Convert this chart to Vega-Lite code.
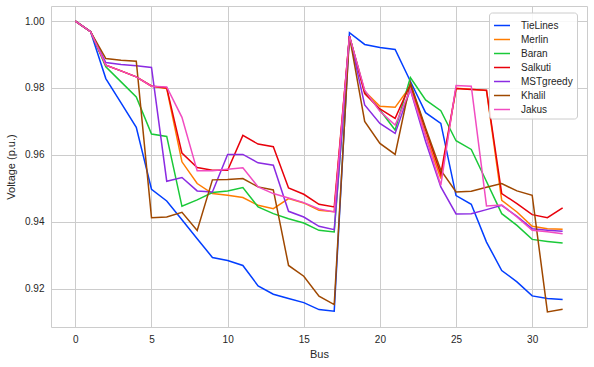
{
  "$schema": "https://vega.github.io/schema/vega-lite/v6.json",
  "autosize": "none",
  "width": 536,
  "height": 321,
  "padding": {"left": 51, "top": 6, "right": 7, "bottom": 40},
  "background": "white",
  "config": {
    "font": "Liberation Sans",
    "view": {"stroke": "#cccccc", "strokeWidth": 1},
    "axis": {"labelFontSize": 10, "titleFontSize": 11, "labelColor": "#262626", "titleColor": "#262626", "titleFontWeight": "normal", "gridColor": "#cccccc", "gridWidth": 1, "domain": false, "ticks": false}
  },
  "data": {"values": [
    {"b":0,"m":"TieLines","v":1.0},{"b":1,"m":"TieLines","v":0.9968},{"b":2,"m":"TieLines","v":0.9828},{"b":3,"m":"TieLines","v":0.9755},{"b":4,"m":"TieLines","v":0.9682},{"b":5,"m":"TieLines","v":0.9497},{"b":6,"m":"TieLines","v":0.9462},{"b":7,"m":"TieLines","v":0.9406},{"b":8,"m":"TieLines","v":0.9349},{"b":9,"m":"TieLines","v":0.9293},{"b":10,"m":"TieLines","v":0.9284},{"b":11,"m":"TieLines","v":0.9269},{"b":12,"m":"TieLines","v":0.9208},{"b":13,"m":"TieLines","v":0.9183},{"b":14,"m":"TieLines","v":0.917},{"b":15,"m":"TieLines","v":0.9158},{"b":16,"m":"TieLines","v":0.9137},{"b":17,"m":"TieLines","v":0.9132},{"b":18,"m":"TieLines","v":0.9965},{"b":19,"m":"TieLines","v":0.993},{"b":20,"m":"TieLines","v":0.9921},{"b":21,"m":"TieLines","v":0.9915},{"b":22,"m":"TieLines","v":0.982},{"b":23,"m":"TieLines","v":0.9726},{"b":24,"m":"TieLines","v":0.9694},{"b":25,"m":"TieLines","v":0.9478},{"b":26,"m":"TieLines","v":0.9452},{"b":27,"m":"TieLines","v":0.9339},{"b":28,"m":"TieLines","v":0.9254},{"b":29,"m":"TieLines","v":0.922},{"b":30,"m":"TieLines","v":0.9178},{"b":31,"m":"TieLines","v":0.917},{"b":32,"m":"TieLines","v":0.9167},
    {"b":0,"m":"Merlin","v":1.0},{"b":1,"m":"Merlin","v":0.9968},{"b":2,"m":"Merlin","v":0.9868},{"b":3,"m":"Merlin","v":0.9851},{"b":4,"m":"Merlin","v":0.9833},{"b":5,"m":"Merlin","v":0.9805},{"b":6,"m":"Merlin","v":0.9798},{"b":7,"m":"Merlin","v":0.9579},{"b":8,"m":"Merlin","v":0.9514},{"b":9,"m":"Merlin","v":0.9484},{"b":10,"m":"Merlin","v":0.9479},{"b":11,"m":"Merlin","v":0.9472},{"b":12,"m":"Merlin","v":0.9449},{"b":13,"m":"Merlin","v":0.9439},{"b":14,"m":"Merlin","v":0.9469},{"b":15,"m":"Merlin","v":0.9456},{"b":16,"m":"Merlin","v":0.9434},{"b":17,"m":"Merlin","v":0.943},{"b":18,"m":"Merlin","v":0.9955},{"b":19,"m":"Merlin","v":0.979},{"b":20,"m":"Merlin","v":0.9745},{"b":21,"m":"Merlin","v":0.9742},{"b":22,"m":"Merlin","v":0.9805},{"b":23,"m":"Merlin","v":0.966},{"b":24,"m":"Merlin","v":0.9529},{"b":25,"m":"Merlin","v":0.9799},{"b":26,"m":"Merlin","v":0.9796},{"b":27,"m":"Merlin","v":0.9792},{"b":28,"m":"Merlin","v":0.9464},{"b":29,"m":"Merlin","v":0.9429},{"b":30,"m":"Merlin","v":0.9386},{"b":31,"m":"Merlin","v":0.9379},{"b":32,"m":"Merlin","v":0.9377},
    {"b":0,"m":"Baran","v":1.0},{"b":1,"m":"Baran","v":0.9968},{"b":2,"m":"Baran","v":0.9863},{"b":3,"m":"Baran","v":0.9818},{"b":4,"m":"Baran","v":0.9773},{"b":5,"m":"Baran","v":0.9662},{"b":6,"m":"Baran","v":0.9655},{"b":7,"m":"Baran","v":0.9446},{"b":8,"m":"Baran","v":0.9465},{"b":9,"m":"Baran","v":0.9487},{"b":10,"m":"Baran","v":0.9492},{"b":11,"m":"Baran","v":0.9502},{"b":12,"m":"Baran","v":0.9444},{"b":13,"m":"Baran","v":0.9424},{"b":14,"m":"Baran","v":0.9409},{"b":15,"m":"Baran","v":0.9396},{"b":16,"m":"Baran","v":0.9374},{"b":17,"m":"Baran","v":0.9369},{"b":18,"m":"Baran","v":0.9955},{"b":19,"m":"Baran","v":0.9788},{"b":20,"m":"Baran","v":0.9734},{"b":21,"m":"Baran","v":0.9674},{"b":22,"m":"Baran","v":0.9831},{"b":23,"m":"Baran","v":0.9764},{"b":24,"m":"Baran","v":0.9732},{"b":25,"m":"Baran","v":0.9642},{"b":26,"m":"Baran","v":0.9616},{"b":27,"m":"Baran","v":0.952},{"b":28,"m":"Baran","v":0.9424},{"b":29,"m":"Baran","v":0.9389},{"b":30,"m":"Baran","v":0.9347},{"b":31,"m":"Baran","v":0.9341},{"b":32,"m":"Baran","v":0.9336},
    {"b":0,"m":"Salkuti","v":1.0},{"b":1,"m":"Salkuti","v":0.9968},{"b":2,"m":"Salkuti","v":0.9868},{"b":3,"m":"Salkuti","v":0.9851},{"b":4,"m":"Salkuti","v":0.9833},{"b":5,"m":"Salkuti","v":0.9806},{"b":6,"m":"Salkuti","v":0.98},{"b":7,"m":"Salkuti","v":0.9605},{"b":8,"m":"Salkuti","v":0.9562},{"b":9,"m":"Salkuti","v":0.9554},{"b":10,"m":"Salkuti","v":0.9554},{"b":11,"m":"Salkuti","v":0.9658},{"b":12,"m":"Salkuti","v":0.9632},{"b":13,"m":"Salkuti","v":0.9624},{"b":14,"m":"Salkuti","v":0.9501},{"b":15,"m":"Salkuti","v":0.9482},{"b":16,"m":"Salkuti","v":0.9452},{"b":17,"m":"Salkuti","v":0.9444},{"b":18,"m":"Salkuti","v":0.9955},{"b":19,"m":"Salkuti","v":0.9783},{"b":20,"m":"Salkuti","v":0.9737},{"b":21,"m":"Salkuti","v":0.9709},{"b":22,"m":"Salkuti","v":0.9811},{"b":23,"m":"Salkuti","v":0.9675},{"b":24,"m":"Salkuti","v":0.9542},{"b":25,"m":"Salkuti","v":0.9798},{"b":26,"m":"Salkuti","v":0.9795},{"b":27,"m":"Salkuti","v":0.9793},{"b":28,"m":"Salkuti","v":0.9484},{"b":29,"m":"Salkuti","v":0.9454},{"b":30,"m":"Salkuti","v":0.9421},{"b":31,"m":"Salkuti","v":0.9412},{"b":32,"m":"Salkuti","v":0.9441},
    {"b":0,"m":"MSTgreedy","v":1.0},{"b":1,"m":"MSTgreedy","v":0.9968},{"b":2,"m":"MSTgreedy","v":0.9876},{"b":3,"m":"MSTgreedy","v":0.987},{"b":4,"m":"MSTgreedy","v":0.9866},{"b":5,"m":"MSTgreedy","v":0.9861},{"b":6,"m":"MSTgreedy","v":0.9521},{"b":7,"m":"MSTgreedy","v":0.9532},{"b":8,"m":"MSTgreedy","v":0.9492},{"b":9,"m":"MSTgreedy","v":0.9489},{"b":10,"m":"MSTgreedy","v":0.9601},{"b":11,"m":"MSTgreedy","v":0.9601},{"b":12,"m":"MSTgreedy","v":0.9576},{"b":13,"m":"MSTgreedy","v":0.9569},{"b":14,"m":"MSTgreedy","v":0.9431},{"b":15,"m":"MSTgreedy","v":0.9414},{"b":16,"m":"MSTgreedy","v":0.9386},{"b":17,"m":"MSTgreedy","v":0.9376},{"b":18,"m":"MSTgreedy","v":0.9955},{"b":19,"m":"MSTgreedy","v":0.9749},{"b":20,"m":"MSTgreedy","v":0.9694},{"b":21,"m":"MSTgreedy","v":0.9664},{"b":22,"m":"MSTgreedy","v":0.9795},{"b":23,"m":"MSTgreedy","v":0.964},{"b":24,"m":"MSTgreedy","v":0.9504},{"b":25,"m":"MSTgreedy","v":0.9423},{"b":26,"m":"MSTgreedy","v":0.9424},{"b":27,"m":"MSTgreedy","v":0.9436},{"b":28,"m":"MSTgreedy","v":0.9449},{"b":29,"m":"MSTgreedy","v":0.9416},{"b":30,"m":"MSTgreedy","v":0.9379},{"b":31,"m":"MSTgreedy","v":0.9374},{"b":32,"m":"MSTgreedy","v":0.9371},
    {"b":0,"m":"Khalil","v":1.0},{"b":1,"m":"Khalil","v":0.9968},{"b":2,"m":"Khalil","v":0.9888},{"b":3,"m":"Khalil","v":0.9883},{"b":4,"m":"Khalil","v":0.988},{"b":5,"m":"Khalil","v":0.9412},{"b":6,"m":"Khalil","v":0.9414},{"b":7,"m":"Khalil","v":0.9428},{"b":8,"m":"Khalil","v":0.9374},{"b":9,"m":"Khalil","v":0.9525},{"b":10,"m":"Khalil","v":0.9526},{"b":11,"m":"Khalil","v":0.9529},{"b":12,"m":"Khalil","v":0.9504},{"b":13,"m":"Khalil","v":0.9495},{"b":14,"m":"Khalil","v":0.9269},{"b":15,"m":"Khalil","v":0.9237},{"b":16,"m":"Khalil","v":0.9177},{"b":17,"m":"Khalil","v":0.9152},{"b":18,"m":"Khalil","v":0.9955},{"b":19,"m":"Khalil","v":0.97},{"b":20,"m":"Khalil","v":0.9634},{"b":21,"m":"Khalil","v":0.9601},{"b":22,"m":"Khalil","v":0.9815},{"b":23,"m":"Khalil","v":0.968},{"b":24,"m":"Khalil","v":0.9554},{"b":25,"m":"Khalil","v":0.9489},{"b":26,"m":"Khalil","v":0.9491},{"b":27,"m":"Khalil","v":0.9503},{"b":28,"m":"Khalil","v":0.9514},{"b":29,"m":"Khalil","v":0.9492},{"b":30,"m":"Khalil","v":0.9479},{"b":31,"m":"Khalil","v":0.913},{"b":32,"m":"Khalil","v":0.9138},
    {"b":0,"m":"Jakus","v":1.0},{"b":1,"m":"Jakus","v":0.9968},{"b":2,"m":"Jakus","v":0.9868},{"b":3,"m":"Jakus","v":0.9851},{"b":4,"m":"Jakus","v":0.9833},{"b":5,"m":"Jakus","v":0.9805},{"b":6,"m":"Jakus","v":0.9803},{"b":7,"m":"Jakus","v":0.9712},{"b":8,"m":"Jakus","v":0.9552},{"b":9,"m":"Jakus","v":0.9552},{"b":10,"m":"Jakus","v":0.9557},{"b":11,"m":"Jakus","v":0.9561},{"b":12,"m":"Jakus","v":0.9504},{"b":13,"m":"Jakus","v":0.9484},{"b":14,"m":"Jakus","v":0.9471},{"b":15,"m":"Jakus","v":0.9457},{"b":16,"m":"Jakus","v":0.9438},{"b":17,"m":"Jakus","v":0.9429},{"b":18,"m":"Jakus","v":0.9955},{"b":19,"m":"Jakus","v":0.9793},{"b":20,"m":"Jakus","v":0.973},{"b":21,"m":"Jakus","v":0.9689},{"b":22,"m":"Jakus","v":0.9795},{"b":23,"m":"Jakus","v":0.9655},{"b":24,"m":"Jakus","v":0.9509},{"b":25,"m":"Jakus","v":0.9807},{"b":26,"m":"Jakus","v":0.9805},{"b":27,"m":"Jakus","v":0.9447},{"b":28,"m":"Jakus","v":0.945},{"b":29,"m":"Jakus","v":0.9414},{"b":30,"m":"Jakus","v":0.9374},{"b":31,"m":"Jakus","v":0.937},{"b":32,"m":"Jakus","v":0.9364}
  ]},
  "mark": {"type": "line", "strokeWidth": 1.5, "clip": true},
  "encoding": {
    "x": {"field": "b", "type": "quantitative", "title": "Bus",
      "scale": {"domain": [-1.6, 33.6], "nice": false, "zero": false},
      "axis": {"values": [0, 5, 10, 15, 20, 25, 30], "labelPadding": 7, "titlePadding": 4}},
    "y": {"field": "v", "type": "quantitative", "title": "Voltage (p.u.)",
      "scale": {"domain": [0.9085, 1.0045], "nice": false, "zero": false},
      "axis": {"values": [0.92, 0.94, 0.96, 0.98, 1.0], "format": ".2f", "labelPadding": 7, "titlePadding": 8}},
    "color": {"field": "m", "type": "nominal", "title": null,
      "scale": {"domain": ["TieLines", "Merlin", "Baran", "Salkuti", "MSTgreedy", "Khalil", "Jakus"],
        "range": ["#023eff", "#ff7c00", "#1ac938", "#e8000b", "#8b2be2", "#9f4800", "#f14cc1"]},
      "legend": {"orient": "none", "legendX": 438, "legendY": 6.5, "symbolType": "stroke", "symbolSize": 256, "symbolStrokeWidth": 1.5,
        "labelFontSize": 10, "labelColor": "#262626", "labelOffset": 10, "rowPadding": -1, "padding": 4, "offset": 0,
        "strokeColor": "#cccccc", "fillColor": "rgba(255,255,255,0.85)", "cornerRadius": 3}}
  }
}
